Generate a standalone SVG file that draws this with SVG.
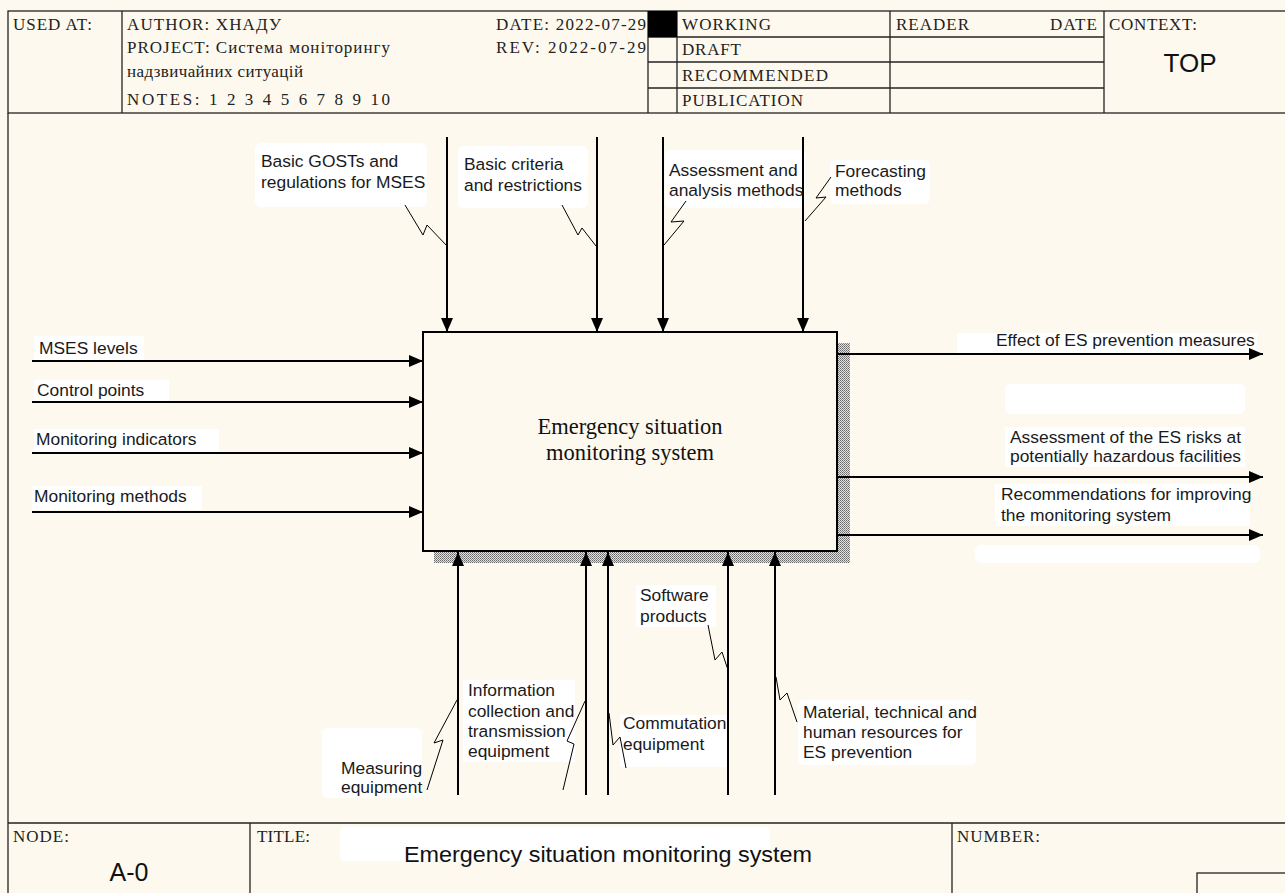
<svg xmlns="http://www.w3.org/2000/svg" width="1285" height="893" viewBox="0 0 1285 893">
<defs>
<style>
.frame{fill:none;stroke:#222;stroke-width:1.3}
.hd{font-family:"Liberation Serif","Times New Roman",serif;font-size:17px;fill:#222}
.lb{font-family:"Liberation Sans",Arial,sans-serif;font-size:17.4px;fill:#1a1a1a}
.box{font-family:"Liberation Serif","Times New Roman",serif;font-size:22.5px;fill:#111}
.ar{fill:none;stroke:#000;stroke-width:2}
.sq{fill:none;stroke:#000;stroke-width:1}
.wp{fill:#fff}
</style>
<marker id="ah" viewBox="0 0 14 12" refX="14" refY="6" markerWidth="14" markerHeight="12" markerUnits="userSpaceOnUse" orient="auto">
<path d="M0,0 L14,6 L0,12 Z" fill="#000"/>
</marker>
<pattern id="hatch" width="2" height="2" patternUnits="userSpaceOnUse">
<rect width="2" height="2" fill="#e4e0d8"/>
<rect x="0" y="0" width="1" height="1" fill="#6a6a6a"/>
<rect x="1" y="1" width="1" height="1" fill="#8a8a8a"/>
</pattern>
</defs>
<rect width="1285" height="893" fill="#fdf9ef"/>

<g id="header">
<rect x="8" y="11" width="1290" height="102" class="frame"/>
<line x1="122" y1="11" x2="122" y2="113" class="frame"/>
<line x1="648" y1="11" x2="648" y2="113" class="frame"/>
<line x1="677" y1="11" x2="677" y2="113" class="frame"/>
<line x1="890" y1="11" x2="890" y2="113" class="frame"/>
<line x1="1104" y1="11" x2="1104" y2="113" class="frame"/>
<line x1="648" y1="37" x2="1104" y2="37" class="frame"/>
<line x1="648" y1="62" x2="1104" y2="62" class="frame"/>
<line x1="648" y1="88" x2="1104" y2="88" class="frame"/>
<rect x="648" y="11" width="29" height="26" fill="#000"/>
<text x="13" y="30" class="hd" textLength="79" lengthAdjust="spacing">USED AT:</text>
<text x="127" y="30" class="hd" textLength="154" lengthAdjust="spacing">AUTHOR:  ХНАДУ</text>
<text x="127" y="53" class="hd" textLength="263" lengthAdjust="spacing">PROJECT:  Система моніторингу</text>
<text x="127" y="77" class="hd" textLength="176" lengthAdjust="spacing">надзвичайних ситуацій</text>
<text x="127" y="105" class="hd" textLength="263" lengthAdjust="spacing">NOTES:  1  2  3  4  5  6  7  8  9  10</text>
<text x="496" y="30" class="hd" textLength="150" lengthAdjust="spacing">DATE: 2022-07-29</text>
<text x="496" y="53" class="hd" textLength="150" lengthAdjust="spacing">REV:   2022-07-29</text>
<text x="682" y="30" class="hd" textLength="89" lengthAdjust="spacing">WORKING</text>
<text x="682" y="55" class="hd" textLength="59" lengthAdjust="spacing">DRAFT</text>
<text x="682" y="81" class="hd" textLength="146" lengthAdjust="spacing">RECOMMENDED</text>
<text x="682" y="106" class="hd" textLength="121" lengthAdjust="spacing">PUBLICATION</text>
<text x="896" y="30" class="hd" textLength="73" lengthAdjust="spacing">READER</text>
<text x="1050" y="30" class="hd" textLength="47" lengthAdjust="spacing">DATE</text>
<text x="1109" y="30" class="hd" textLength="88" lengthAdjust="spacing">CONTEXT:</text>
<text x="1190" y="72" font-family="Liberation Sans,Arial,sans-serif" font-size="26" fill="#111" text-anchor="middle">TOP</text>
</g>

<g id="frame-body">
<line x1="8" y1="113" x2="8" y2="893" class="frame"/>
</g>

<g id="footer">
<line x1="8" y1="823" x2="1290" y2="823" class="frame"/>
<line x1="250" y1="823" x2="250" y2="893" class="frame"/>
<line x1="952" y1="823" x2="952" y2="893" class="frame"/>
<rect x="1197" y="873" width="100" height="30" class="frame"/>
<text x="13" y="842" class="hd" textLength="56" lengthAdjust="spacing">NODE:</text>
<text x="257" y="842" class="hd" textLength="53" lengthAdjust="spacing">TITLE:</text>
<text x="957" y="842" class="hd" textLength="83" lengthAdjust="spacing">NUMBER:</text>
<text x="129" y="881" font-family="Liberation Sans,Arial,sans-serif" font-size="25" fill="#111" text-anchor="middle">A-0</text>
<rect x="340" y="827" width="430" height="34" rx="4" class="wp"/>
<text x="608" y="862" font-family="Liberation Sans,Arial,sans-serif" font-size="22" fill="#111" text-anchor="middle" textLength="408" lengthAdjust="spacingAndGlyphs">Emergency situation monitoring system</text>
</g>

<g id="patches">
<rect x="255" y="143" width="172" height="64" rx="6" class="wp"/>
<rect x="458" y="146" width="130" height="62" rx="6" class="wp"/>
<rect x="665" y="150" width="140" height="58" rx="6" class="wp"/>
<rect x="830" y="160" width="100" height="44" rx="6" class="wp"/>
<rect x="34" y="336" width="110" height="24" class="wp"/>
<rect x="34" y="380" width="135" height="22" class="wp"/>
<rect x="34" y="429" width="185" height="23" class="wp"/>
<rect x="32" y="486" width="170" height="24" class="wp"/>
<rect x="957" y="333" width="300" height="20" class="wp"/>
<rect x="1005" y="384" width="240" height="30" rx="6" class="wp"/>
<rect x="1005" y="427" width="240" height="40" class="wp"/>
<rect x="995" y="484" width="255" height="42" class="wp"/>
<rect x="975" y="545" width="285" height="18" rx="6" class="wp"/>
<rect x="636" y="585" width="80" height="42" class="wp"/>
<rect x="463" y="680" width="112" height="82" class="wp"/>
<rect x="620" y="715" width="108" height="52" class="wp"/>
<rect x="322" y="728" width="100" height="70" rx="6" class="wp"/>
<rect x="798" y="700" width="178" height="65" rx="6" class="wp"/>
</g>

<g id="A0">
<rect x="434" y="343" width="416" height="220" fill="url(#hatch)"/>
<rect x="423" y="332" width="414" height="219" fill="#fdf9ef" stroke="#000" stroke-width="2"/>
<text x="630" y="434" class="box" text-anchor="middle">Emergency situation</text>
<text x="630" y="460" class="box" text-anchor="middle">monitoring system</text>
</g>

<g id="connectors">
<line x1="447" y1="137" x2="447" y2="332" class="ar" marker-end="url(#ah)"/>
<line x1="597" y1="137" x2="597" y2="332" class="ar" marker-end="url(#ah)"/>
<line x1="663" y1="137" x2="663" y2="332" class="ar" marker-end="url(#ah)"/>
<line x1="803" y1="137" x2="803" y2="332" class="ar" marker-end="url(#ah)"/>
<line x1="32" y1="361" x2="423" y2="361" class="ar" marker-end="url(#ah)"/>
<line x1="32" y1="402" x2="423" y2="402" class="ar" marker-end="url(#ah)"/>
<line x1="32" y1="453" x2="423" y2="453" class="ar" marker-end="url(#ah)"/>
<line x1="32" y1="512" x2="423" y2="512" class="ar" marker-end="url(#ah)"/>
<line x1="838" y1="354" x2="1263" y2="354" class="ar" marker-end="url(#ah)"/>
<line x1="838" y1="477" x2="1263" y2="477" class="ar" marker-end="url(#ah)"/>
<line x1="838" y1="535" x2="1263" y2="535" class="ar" marker-end="url(#ah)"/>
<line x1="458" y1="795" x2="458" y2="552" class="ar" marker-end="url(#ah)"/>
<line x1="586" y1="795" x2="586" y2="552" class="ar" marker-end="url(#ah)"/>
<line x1="608" y1="795" x2="608" y2="552" class="ar" marker-end="url(#ah)"/>
<line x1="728" y1="795" x2="728" y2="552" class="ar" marker-end="url(#ah)"/>
<line x1="775" y1="795" x2="775" y2="552" class="ar" marker-end="url(#ah)"/>
<polyline points="405,205 423,235 427,225 447,246" class="sq"/>
<polyline points="562,205 578,235 582,228 596,246" class="sq"/>
<polyline points="686,201 671,222 684,221 664,245" class="sq"/>
<polyline points="831,177 816,198 826,197 805,221" class="sq"/>
<polyline points="427,790 443,740 434,743 457,700" class="sq"/>
<polyline points="563,790 574,744 567,741 585,701" class="sq"/>
<polyline points="609,713 613,745 620,737 626,768" class="sq"/>
<polyline points="708,625 715,660 722,652 728,670" class="sq"/>
<polyline points="776,677 780,700 787,693 797,722" class="sq"/>
</g>

<g id="labels">
<text x="261" y="167" class="lb">Basic GOSTs and</text>
<text x="261" y="188" class="lb">regulations for MSES</text>
<text x="464" y="170" class="lb">Basic criteria</text>
<text x="464" y="191" class="lb">and restrictions</text>
<text x="669" y="176" class="lb">Assessment and</text>
<text x="669" y="196" class="lb">analysis methods</text>
<text x="835" y="177" class="lb">Forecasting</text>
<text x="835" y="196" class="lb">methods</text>
<text x="39" y="354" class="lb">MSES levels</text>
<text x="37" y="396" class="lb">Control points</text>
<text x="36" y="445" class="lb">Monitoring indicators</text>
<text x="34" y="502" class="lb">Monitoring methods</text>
<text x="996" y="346" class="lb">Effect of ES prevention measures</text>
<text x="1010" y="443" class="lb">Assessment of the ES risks at</text>
<text x="1010" y="462" class="lb">potentially hazardous facilities</text>
<text x="1001" y="500" class="lb">Recommendations for improving</text>
<text x="1001" y="521" class="lb">the monitoring system</text>
<text x="640" y="601" class="lb">Software</text>
<text x="640" y="622" class="lb">products</text>
<text x="468" y="696" class="lb">Information</text>
<text x="468" y="717" class="lb">collection and</text>
<text x="468" y="737" class="lb">transmission</text>
<text x="468" y="757" class="lb">equipment</text>
<text x="623" y="729" class="lb">Commutation</text>
<text x="623" y="750" class="lb">equipment</text>
<text x="341" y="774" class="lb">Measuring</text>
<text x="341" y="793" class="lb">equipment</text>
<text x="803" y="718" class="lb">Material, technical and</text>
<text x="803" y="738" class="lb">human resources for</text>
<text x="803" y="758" class="lb">ES prevention</text>
</g>
</svg>
